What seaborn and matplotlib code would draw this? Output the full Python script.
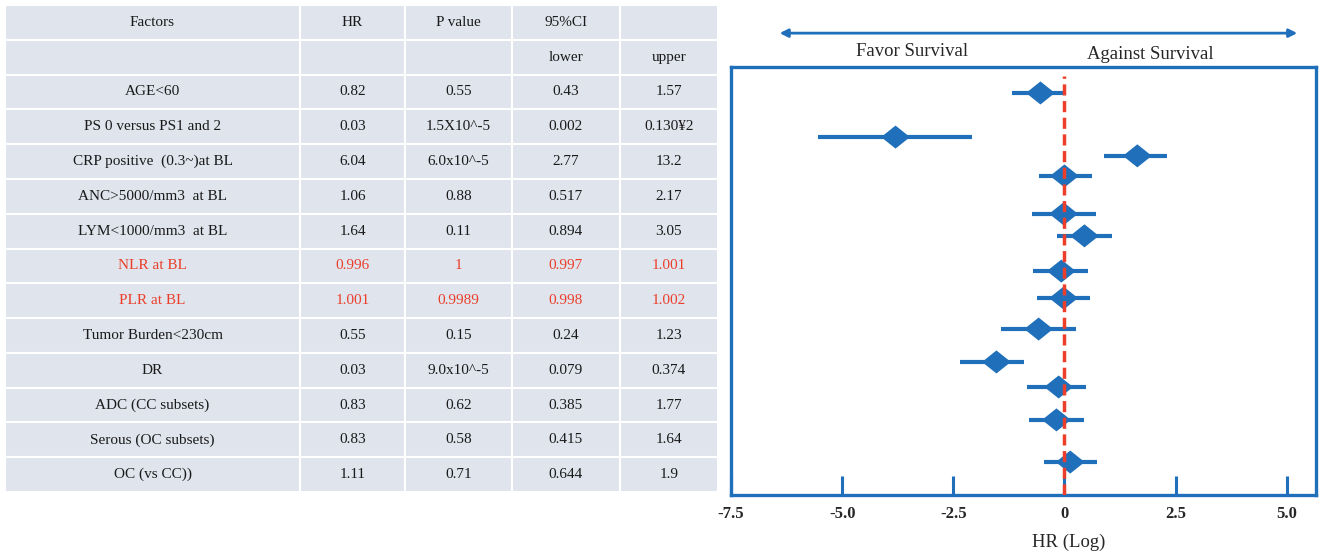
import matplotlib
matplotlib.use("Agg")
import matplotlib.pyplot as plt
import seaborn as sns
from matplotlib.path import Path
from matplotlib.markers import MarkerStyle

# ---- table data (as printed) ----
factors = ["AGE<60", "PS 0 versus PS1 and 2", "CRP positive  (0.3~)at BL",
           "ANC>5000/mm3  at BL", "LYM<1000/mm3  at BL", "NLR at BL", "PLR at BL",
           "Tumor Burden<230cm", "DR", "ADC (CC subsets)", "Serous (OC subsets)",
           "OC (vs CC))"]
hr_text = ["0.82", "0.03", "6.04", "1.06", "1.64", "0.996", "1.001", "0.55",
           "0.03", "0.83", "0.83", "1.11"]
p_text = ["0.55", "1.5X10^-5", "6.0x10^-5", "0.88", "0.11", "1", "0.9989",
          "0.15", "9.0x10^-5", "0.62", "0.58", "0.71"]
lower_text = ["0.43", "0.002", "2.77", "0.517", "0.894", "0.997", "0.998",
              "0.24", "0.079", "0.385", "0.415", "0.644"]
upper_text = ["1.57", "0.130\u00a52", "13.2", "2.17", "3.05", "1.001", "1.002",
              "1.23", "0.374", "1.77", "1.64", "1.9"]
red_rows = ["NLR at BL", "PLR at BL"]

# ---- forest plot values (log HR, as drawn) ----
row_pos = [0.79, 2.13, 2.70, 3.31, 4.46, 5.13, 6.20, 7.02, 7.96, 8.96, 9.72, 10.72, 12.00]
log_hr = [-0.54, -3.80, 1.64, 0.00, -0.02, 0.45, -0.07, -0.02, -0.58, -1.53, -0.13, -0.18, 0.13]
log_lo = [-1.17, -5.55, 0.88, -0.58, -0.72, -0.16, -0.70, -0.61, -1.42, -2.34, -0.85, -0.79, -0.47]
log_hi = [0.04, -2.07, 2.31, 0.61, 0.72, 1.06, 0.52, 0.58, 0.27, -0.92, 0.49, 0.43, 0.74]
xticks = [-7.5, -5.0, -2.5, 0, 2.5, 5.0]
xtick_labels = ["-7.5", "-5.0", "-2.5", "0", "2.5", "5.0"]

BLUE = "#1f6fba"
RED = "#ec3f2b"
CELL = "#dfe4ed"
SERIF = ["Liberation Serif", "DejaVu Serif"]

sns.set_style("white")
plt.rcParams["font.family"] = SERIF

fig = plt.figure(figsize=(13.22, 5.52), dpi=100)

# ---- table ----
tax = fig.add_axes([0.0038, 0.1087, 0.5393, 0.8822])
tax.axis("off")
rows = [["Factors", "HR", "P value", "95%CI", ""],
        ["", "", "", "lower", "upper"]]
for i in range(len(factors)):
    rows.append([factors[i], hr_text[i], p_text[i], lower_text[i], upper_text[i]])
col_w = [295, 105, 107, 108, 98]
tot = sum(col_w)
tbl = tax.table(cellText=rows, cellLoc="center", bbox=[0, 0, 1, 1],
                colWidths=[w / tot for w in col_w])
tbl.auto_set_font_size(False)
for (r, c), cell in tbl.get_celld().items():
    cell.set_facecolor(CELL)
    cell.set_edgecolor("white")
    cell.set_linewidth(1.5)
    txt = cell.get_text()
    txt.set_fontsize(11)
    txt.set_fontfamily(SERIF)
    if r >= 2 and factors[r - 2] in red_rows:
        txt.set_color(RED)
    else:
        txt.set_color("#1a1a1a")

# ---- forest plot ----
ax = fig.add_axes([0.553, 0.1033, 0.4425, 0.7754])
ax.hlines(row_pos, log_lo, log_hi, color=BLUE, lw=3, zorder=2)
diamond = MarkerStyle(Path([(-1.25, 0), (0, 1), (1.25, 0), (0, -1), (-1.25, 0)],
                           [Path.MOVETO, Path.LINETO, Path.LINETO, Path.LINETO,
                            Path.CLOSEPOLY]))
sns.scatterplot(x=log_hr, y=row_pos, marker=diamond, s=430, color=BLUE,
                edgecolor="none", linewidth=0, ax=ax, zorder=3)
ax.axvline(0, ymin=0, ymax=0.98, color=RED, lw=2.5, ls=(0, (3.2, 1.6)), zorder=4)

ax.set_xlim(-7.45, 5.66)
ax.set_ylim(13, 0)
ax.set_yticks([])
ax.set_xticks(xticks)
ax.set_xticklabels(xtick_labels, fontweight="bold", fontsize=12)
ax.tick_params(axis="x", direction="in", length=14, width=2.2, color=BLUE,
               pad=8, bottom=True)
for s in ax.spines.values():
    s.set_color(BLUE)
    s.set_linewidth(2.4)
ax.set_xlabel("HR (Log)", fontsize=13.5)
ax.xaxis.set_label_coords(0.578, -0.09)

ax.annotate("", xy=(-6.47, 1.079), xytext=(5.30, 1.079),
            xycoords=("data", "axes fraction"), textcoords=("data", "axes fraction"),
            arrowprops=dict(arrowstyle="<|-|>", color=BLUE, lw=2,
                            mutation_scale=12), annotation_clip=False)
ax.text(-3.42, 1.035, "Favor Survival", transform=ax.get_xaxis_transform(),
        ha="center", va="center", fontsize=13.5)
ax.text(1.93, 1.03, "Against Survival", transform=ax.get_xaxis_transform(),
        ha="center", va="center", fontsize=13.5)

fig.savefig("out.png", dpi=100)
